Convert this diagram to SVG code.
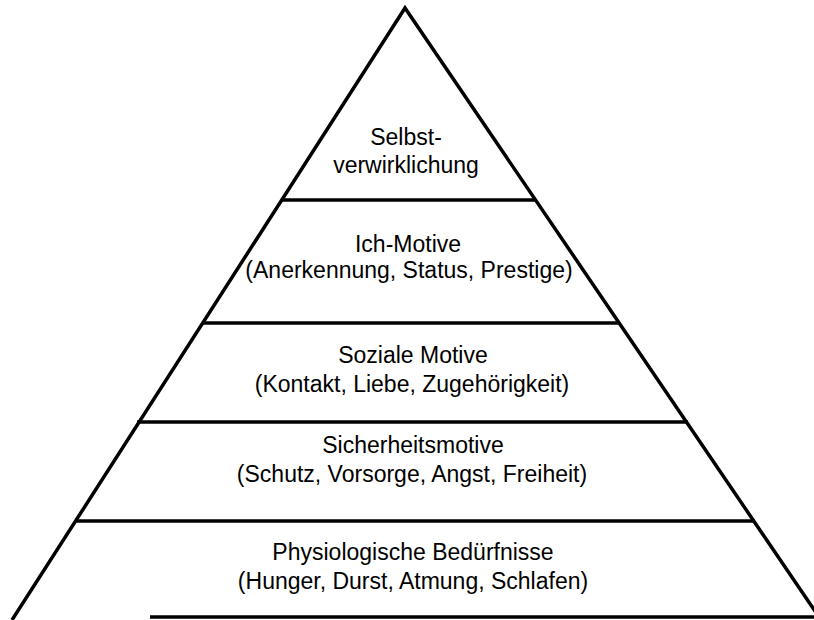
<svg xmlns="http://www.w3.org/2000/svg" width="814" height="620" viewBox="0 0 814 620">
<style>
.l{stroke:#000;stroke-width:3.5;fill:none;stroke-linecap:butt}
.t{font-family:"Liberation Sans",Arial,sans-serif;font-size:23px;fill:#000;text-anchor:middle}
</style>
<rect width="814" height="620" fill="#fff"/>
<g id="connectors">
<path class="l" d="M12,620 L405,8 L817,614" stroke-linejoin="miter"/>
<line class="l" x1="282" y1="200" x2="536" y2="200"/>
<line class="l" x1="202" y1="323" x2="620" y2="323"/>
<line class="l" x1="137" y1="422" x2="688" y2="422"/>
<line class="l" x1="75" y1="521" x2="755" y2="521"/>
<line class="l" x1="150" y1="617" x2="814" y2="617"/>
</g>
<g id="n1"><text class="t" x="406" y="145">Selbst-</text><text class="t" x="406" y="173">verwirklichung</text></g>
<g id="n2"><text class="t" x="408" y="252">Ich-Motive</text><text class="t" x="409" y="278">(Anerkennung, Status, Prestige)</text></g>
<g id="n3"><text class="t" x="413" y="363">Soziale Motive</text><text class="t" x="412" y="392">(Kontakt, Liebe, Zugehörigkeit)</text></g>
<g id="n4"><text class="t" x="413" y="453">Sicherheitsmotive</text><text class="t" x="412" y="482">(Schutz, Vorsorge, Angst, Freiheit)</text></g>
<g id="n5"><text class="t" x="413" y="560">Physiologische Bedürfnisse</text><text class="t" x="413" y="589">(Hunger, Durst, Atmung, Schlafen)</text></g>
</svg>
